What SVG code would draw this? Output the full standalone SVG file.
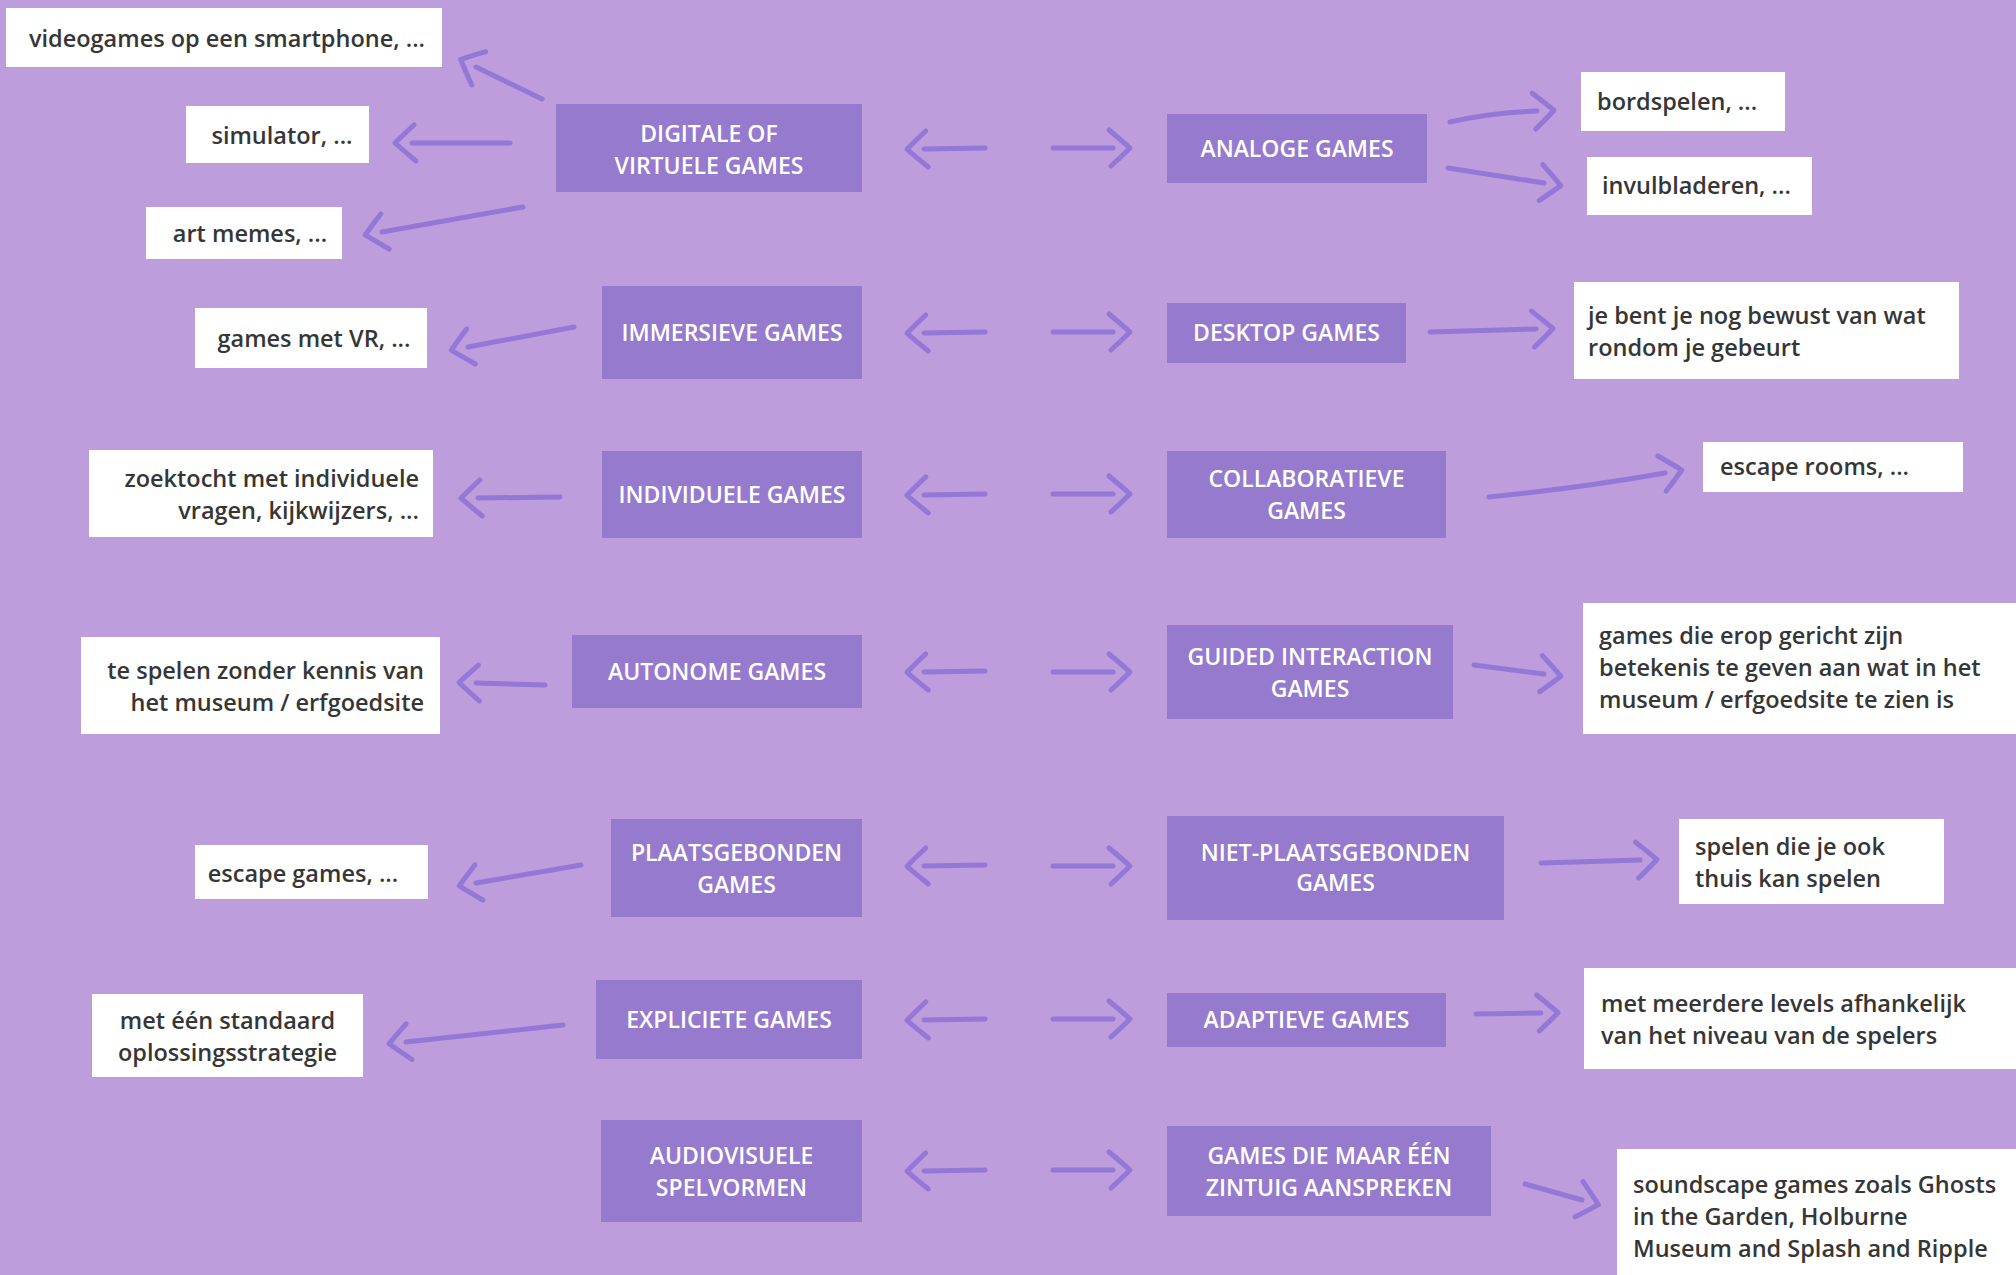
<svg xmlns="http://www.w3.org/2000/svg" width="2016" height="1275" viewBox="0 0 2016 1275">
<defs>
<style>
.bg{fill:#BD9DDC}
.node rect{fill:#957ACE}
.node text{fill:#FFFFFF;font-family:"Open Sans","Noto Sans",sans-serif;font-weight:600;font-size:23px;text-anchor:middle}
.box rect{fill:#FFFFFF}
.box text{fill:#363636;font-family:"Open Sans","Noto Sans",sans-serif;font-weight:600;font-size:23.5px}
.arr{fill:none;stroke:#9477D6;stroke-width:5;stroke-linecap:round;stroke-linejoin:round}
.mk{fill:none;stroke:#9477D6;stroke-width:5;stroke-linecap:round;stroke-linejoin:round}
</style>
<marker id="chev" markerUnits="userSpaceOnUse" orient="auto" viewBox="-30 -30 60 60" markerWidth="60" markerHeight="60" refX="0" refY="0" overflow="visible">
<path class="mk" d="M-4,-18 Q8,-8 17,0 Q9,8 -2,18"/>
</marker>
</defs>
<rect class="bg" x="0" y="0" width="2016" height="1275"/>

<g id="connectors">
<path class="arr" marker-end="url(#chev)" d="M542,99 L476,67"/>
<path class="arr" marker-end="url(#chev)" d="M510,143 L412,143"/>
<path class="arr" marker-end="url(#chev)" d="M523,207 L382,232"/>
<path class="arr" marker-end="url(#chev)" d="M574,327 L468,347"/>
<path class="arr" marker-end="url(#chev)" d="M560,497 L478,498"/>
<path class="arr" marker-end="url(#chev)" d="M545,685 L476,683"/>
<path class="arr" marker-end="url(#chev)" d="M581,865 L476,883"/>
<path class="arr" marker-end="url(#chev)" d="M563,1025 L406,1042"/>

<path class="arr" marker-end="url(#chev)" d="M985,148 L924,149"/>
<path class="arr" marker-end="url(#chev)" d="M1053,148 L1113,148"/>
<path class="arr" marker-end="url(#chev)" d="M985,332 L924,333"/>
<path class="arr" marker-end="url(#chev)" d="M1053,332 L1113,332"/>
<path class="arr" marker-end="url(#chev)" d="M985,494 L924,495"/>
<path class="arr" marker-end="url(#chev)" d="M1053,494 L1113,494"/>
<path class="arr" marker-end="url(#chev)" d="M985,671 L924,672"/>
<path class="arr" marker-end="url(#chev)" d="M1053,672 L1113,672"/>
<path class="arr" marker-end="url(#chev)" d="M985,865 L924,866"/>
<path class="arr" marker-end="url(#chev)" d="M1053,866 L1113,866"/>
<path class="arr" marker-end="url(#chev)" d="M985,1019 L924,1020"/>
<path class="arr" marker-end="url(#chev)" d="M1053,1019 L1113,1019"/>
<path class="arr" marker-end="url(#chev)" d="M985,1170 L924,1171"/>
<path class="arr" marker-end="url(#chev)" d="M1053,1170 L1113,1170"/>

<path class="arr" marker-end="url(#chev)" d="M1450,122 Q1490,113 1537,111"/>
<path class="arr" marker-end="url(#chev)" d="M1448,168 L1544,183"/>
<path class="arr" marker-end="url(#chev)" d="M1430,332 L1536,329"/>
<path class="arr" marker-end="url(#chev)" d="M1489,497 Q1580,488 1665,473"/>
<path class="arr" marker-end="url(#chev)" d="M1474,665 L1544,674"/>
<path class="arr" marker-end="url(#chev)" d="M1541,863 L1640,860"/>
<path class="arr" marker-end="url(#chev)" d="M1476,1014 L1541,1013"/>
<path class="arr" marker-end="url(#chev)" d="M1525,1184 L1582,1200"/>
</g>

<g id="n-digitale" class="node"><rect x="556" y="104" width="306" height="88"/><text x="709" y="142">DIGITALE OF<tspan x="709" dy="32">VIRTUELE GAMES</tspan></text></g>
<g id="n-analoge" class="node"><rect x="1167" y="114" width="260" height="69"/><text x="1297" y="157">ANALOGE GAMES</text></g>
<g id="n-immersieve" class="node"><rect x="602" y="286" width="260" height="93"/><text x="732" y="341">IMMERSIEVE GAMES</text></g>
<g id="n-desktop" class="node"><rect x="1167" y="303" width="239" height="60"/><text x="1286.5" y="341">DESKTOP GAMES</text></g>
<g id="n-individuele" class="node"><rect x="602" y="451" width="260" height="87"/><text x="732" y="503">INDIVIDUELE GAMES</text></g>
<g id="n-collaboratieve" class="node"><rect x="1167" y="451" width="279" height="87"/><text x="1306.5" y="487">COLLABORATIEVE<tspan x="1306.5" dy="32">GAMES</tspan></text></g>
<g id="n-autonome" class="node"><rect x="572" y="635" width="290" height="73"/><text x="717" y="680">AUTONOME GAMES</text></g>
<g id="n-guided" class="node"><rect x="1167" y="625" width="286" height="94"/><text x="1310" y="665">GUIDED INTERACTION<tspan x="1310" dy="32">GAMES</tspan></text></g>
<g id="n-plaatsgebonden" class="node"><rect x="611" y="819" width="251" height="98"/><text x="736.5" y="861">PLAATSGEBONDEN<tspan x="736.5" dy="32">GAMES</tspan></text></g>
<g id="n-nietplaatsgebonden" class="node"><rect x="1167" y="816" width="337" height="104"/><text x="1335.5" y="861">NIET-PLAATSGEBONDEN<tspan x="1335.5" dy="30">GAMES</tspan></text></g>
<g id="n-expliciete" class="node"><rect x="596" y="980" width="266" height="79"/><text x="729" y="1028">EXPLICIETE GAMES</text></g>
<g id="n-adaptieve" class="node"><rect x="1167" y="993" width="279" height="54"/><text x="1306.5" y="1028">ADAPTIEVE GAMES</text></g>
<g id="n-audiovisuele" class="node"><rect x="601" y="1120" width="261" height="102"/><text x="731.5" y="1164">AUDIOVISUELE<tspan x="731.5" dy="32">SPELVORMEN</tspan></text></g>
<g id="n-eenzintuig" class="node"><rect x="1167" y="1126" width="324" height="90"/><text x="1329" y="1164">GAMES DIE MAAR ÉÉN<tspan x="1329" dy="32">ZINTUIG AANSPREKEN</tspan></text></g>

<g id="b-videogames" class="box"><rect x="6" y="8" width="436" height="59"/><text x="227" y="47" text-anchor="middle">videogames op een smartphone, ...</text></g>
<g id="b-simulator" class="box"><rect x="186" y="106" width="183" height="57"/><text x="282" y="144" text-anchor="middle">simulator, ...</text></g>
<g id="b-artmemes" class="box"><rect x="146" y="207" width="196" height="52"/><text x="250" y="242" text-anchor="middle">art memes, ...</text></g>
<g id="b-vr" class="box"><rect x="195" y="308" width="232" height="60"/><text x="314" y="347" text-anchor="middle">games met VR, ...</text></g>
<g id="b-zoektocht" class="box"><rect x="89" y="450" width="344" height="87"/><text x="419" y="487" text-anchor="end">zoektocht met individuele<tspan x="419" dy="32">vragen, kijkwijzers, ...</tspan></text></g>
<g id="b-tespelen" class="box"><rect x="81" y="637" width="359" height="97"/><text x="424" y="679" text-anchor="end">te spelen zonder kennis van<tspan x="424" dy="32">het museum / erfgoedsite</tspan></text></g>
<g id="b-escapegames" class="box"><rect x="195" y="845" width="233" height="54"/><text x="303" y="882" text-anchor="middle">escape games, ...</text></g>
<g id="b-meteen" class="box"><rect x="92" y="994" width="271" height="83"/><text x="227.5" y="1029" text-anchor="middle">met één standaard<tspan x="227.5" dy="32">oplossingsstrategie</tspan></text></g>

<g id="b-bordspelen" class="box"><rect x="1581" y="72" width="204" height="59"/><text x="1597" y="110">bordspelen, ...</text></g>
<g id="b-invulbladeren" class="box"><rect x="1587" y="157" width="225" height="58"/><text x="1602" y="194">invulbladeren, ...</text></g>
<g id="b-jebent" class="box"><rect x="1574" y="282" width="385" height="97"/><text x="1588" y="324">je bent je nog bewust van wat<tspan x="1588" dy="32">rondom je gebeurt</tspan></text></g>
<g id="b-escaperooms" class="box"><rect x="1703" y="442" width="260" height="50"/><text x="1720" y="475">escape rooms, ...</text></g>
<g id="b-gamesdie" class="box"><rect x="1583" y="603" width="433" height="131"/><text x="1599" y="644">games die erop gericht zijn<tspan x="1599" dy="32">betekenis te geven aan wat in het</tspan><tspan x="1599" dy="32">museum / erfgoedsite te zien is</tspan></text></g>
<g id="b-spelen" class="box"><rect x="1679" y="819" width="265" height="85"/><text x="1695" y="855">spelen die je ook<tspan x="1695" dy="32">thuis kan spelen</tspan></text></g>
<g id="b-meerdere" class="box"><rect x="1584" y="968" width="432" height="101"/><text x="1601" y="1012">met meerdere levels afhankelijk<tspan x="1601" dy="32">van het niveau van de spelers</tspan></text></g>
<g id="b-soundscape" class="box"><rect x="1617" y="1149" width="399" height="126"/><text x="1633" y="1193">soundscape games zoals Ghosts<tspan x="1633" dy="32">in the Garden, Holburne</tspan><tspan x="1633" dy="32">Museum and Splash and Ripple</tspan></text></g>
</svg>
